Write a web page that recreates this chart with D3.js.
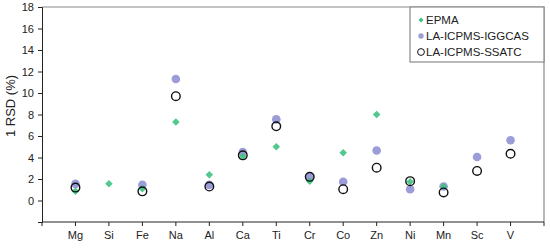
<!DOCTYPE html>
<html>
<head>
<meta charset="utf-8">
<script src="https://cdn.jsdelivr.net/npm/d3@7/dist/d3.min.js"></script>
<style>
	body { margin: 0; background: #fff; }
	svg { display: block; font-family: "Liberation Sans", Arial, sans-serif; }
	.axis text { font-size: 11px; fill: #222; }
	.axis path, .axis line { stroke: #222; }
</style>
</head>
<body>
<div class="chart"></div>
<script>
var elements = ["Mg", "Si", "Fe", "Na", "Al", "Ca", "Ti", "Cr", "Co", "Zn", "Ni", "Mn", "Sc", "V"];
var epma =   [0.85, 1.55, 1.1, 7.3, 2.4, 4.1, 5.0, 1.8, 4.45, 8.0, 1.75, 1.3, null, null];
var iggcas = [1.55, null, 1.45, 11.3, 1.45, 4.5, 7.55, 2.2, 1.75, 4.65, 1.05, 1.3, 4.05, 5.6];
var ssatc =  [1.2, null, 0.85, 9.7, 1.3, 4.2, 6.9, 2.2, 1.05, 3.05, 1.8, 0.75, 2.75, 4.35];
var yTicks = [-2, 0, 2, 4, 6, 8, 10, 12, 14, 16, 18];

var width = 550, height = 248,
	margin = { top: 7, right: 6, bottom: 26, left: 42 },
	x0 = margin.left, x1 = width - margin.right,
	y0 = height - margin.bottom, y1 = margin.top;

var svg = d3.select('.chart').append('svg')
	.attr('width', width)
	.attr('height', height);

var x = d3.scalePoint()
	.domain(elements)
	.range([x0, x1])
	.padding(1);

var y = d3.scaleLinear()
	.domain([-2, 18])
	.range([y0, y1]);

// gray frame top / right
svg.append('path')
	.attr('d', 'M' + x0 + ',' + y1 + 'H' + x1 + 'V' + y0)
	.attr('fill', 'none')
	.attr('stroke', '#8a8a8a')
	.attr('stroke-width', 1.2);

// y axis
var yAxis = svg.append('g')
	.attr('class', 'axis')
	.attr('transform', 'translate(' + x0 + ',0)')
	.call(d3.axisLeft(y).tickValues(yTicks).tickSize(4).tickPadding(4)
		.tickFormat(function(d) { return d < 0 ? '' : d; }));

// x axis: ticks at the edges and at each element
var xTickPos = [x0].concat(elements.map(function(e) { return x(e); }), [x1]);
var xAxis = svg.append('g')
	.attr('class', 'axis');
xAxis.append('line')
	.attr('x1', x0).attr('x2', x1)
	.attr('y1', y0).attr('y2', y0);
xAxis.selectAll('.tk')
	.data(xTickPos)
	.enter().append('line')
	.attr('x1', function(d) { return d; })
	.attr('x2', function(d) { return d; })
	.attr('y1', y0).attr('y2', y0 + 4);
xAxis.selectAll('text')
	.data(elements)
	.enter().append('text')
	.attr('x', function(d) { return x(d); })
	.attr('y', y0 + 17)
	.attr('text-anchor', 'middle')
	.text(function(d) { return d; });

// axis title
svg.append('text')
	.attr('transform', 'translate(15,106) rotate(-90)')
	.attr('text-anchor', 'middle')
	.style('font-size', '13px')
	.attr('fill', '#222')
	.text('1 RSD (%)');

function pts(vals) {
	return elements.map(function(e, i) { return { key: e, value: vals[i] }; })
		.filter(function(d) { return d.value !== null; });
}

var purple = '#9c9cd8', green = '#3dc282';

svg.append('g').selectAll('circle')
	.data(pts(iggcas))
	.enter().append('circle')
	.attr('cx', function(d) { return x(d.key); })
	.attr('cy', function(d) { return y(d.value); })
	.attr('r', 4.3)
	.attr('fill', purple);

var diamond = d3.symbol().type(d3.symbolDiamond2).size(36);
svg.append('g').selectAll('path')
	.data(pts(epma))
	.enter().append('path')
	.attr('d', diamond)
	.attr('transform', function(d) { return 'translate(' + x(d.key) + ',' + y(d.value) + ')'; })
	.attr('fill', green)
	.attr('fill-opacity', 0.9);

svg.append('g').selectAll('circle')
	.data(pts(ssatc))
	.enter().append('circle')
	.attr('cx', function(d) { return x(d.key); })
	.attr('cy', function(d) { return y(d.value); })
	.attr('r', 4.3)
	.attr('fill', 'none')
	.attr('stroke', '#111')
	.attr('stroke-width', 1.4);

// legend
var lg = svg.append('g').attr('transform', 'translate(410,' + y1 + ')');
lg.append('rect')
	.attr('width', x1 - 410).attr('height', 55)
	.attr('fill', '#fff')
	.attr('stroke', '#8a8a8a')
	.attr('stroke-width', 1.2);
var legendItems = ['EPMA', 'LA-ICPMS-IGGCAS', 'LA-ICPMS-SSATC'];
legendItems.forEach(function(name, i) {
	var ly = 13 + i * 16;
	if (i === 0) {
		lg.append('path')
			.attr('d', d3.symbol().type(d3.symbolDiamond2).size(16))
			.attr('transform', 'translate(11,' + ly + ')')
			.attr('fill', green);
	} else if (i === 1) {
		lg.append('circle').attr('cx', 11).attr('cy', ly).attr('r', 2.7).attr('fill', purple);
	} else {
		lg.append('circle').attr('cx', 11).attr('cy', ly).attr('r', 3.4)
			.attr('fill', 'none').attr('stroke', '#111').attr('stroke-width', 1);
	}
	lg.append('text')
		.attr('x', 16).attr('y', ly + 4)
		.style('font-size', '11.5px')
		.attr('fill', '#222')
		.text(name);
});
</script>
</body>
</html>
